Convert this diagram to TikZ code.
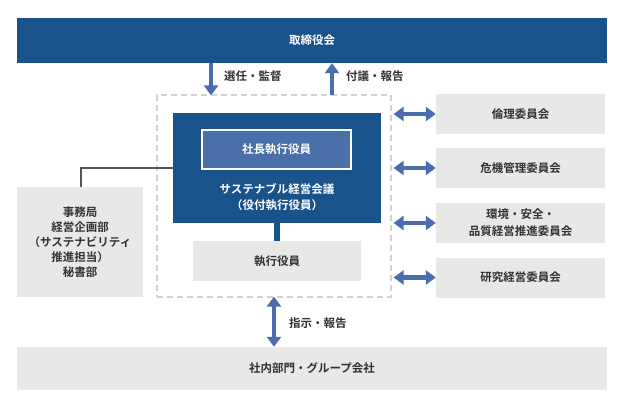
\documentclass[tikz,border=0pt]{standalone}
\usepackage{fontspec}
\setmainfont{Noto Sans CJK JP}[BoldFont={Noto Sans CJK JP Bold}]
\usetikzlibrary{arrows.meta}
\definecolor{navy}{HTML}{1A528C}
\definecolor{midblue}{HTML}{4B6FA8}
\definecolor{arrowblue}{HTML}{4A6EAD}
\definecolor{boxgray}{HTML}{E8E8E7}
\definecolor{dashgray}{HTML}{D2D2D2}
\definecolor{txtgray}{HTML}{333333}
\definecolor{linegray}{HTML}{555555}
\begin{document}
\begin{tikzpicture}[x=1pt,y=-1pt,
  every node/.style={font=\fontsize{11.5}{15}\selectfont\bfseries, inner sep=0pt},
  darkbox/.style={fill=navy, text=white, draw=none},
  graybox/.style={fill=boxgray, text=txtgray, draw=none},
  bigarrow/.style={draw=arrowblue, line width=4.5pt, -{Triangle[width=14pt,length=10pt]}},
  dblarrow/.style={draw=arrowblue, line width=4.5pt, {Triangle[width=14pt,length=10pt]}-{Triangle[width=14pt,length=10pt]}},
  lbl/.style={text=txtgray, anchor=west}
]
\useasboundingbox (0,0) rectangle (624,405);
% top board
\node[darkbox, minimum width=590pt, minimum height=45pt] (board) at (312,40.5) {取締役会};
% dashed executive area
\node[draw=dashgray, dashed, dash pattern=on 6pt off 4pt, line width=1.2pt, minimum width=234pt, minimum height=202pt] (exec) at (274,196) {};
% council
\node[darkbox, minimum width=208pt, minimum height=110pt] (council) at (277,168) {};
\node[fill=midblue, draw=white, line width=1.2pt, text=white, minimum width=149pt, minimum height=39pt] (pres) at (276.5,149.5) {社長執行役員};
\node[text=white, align=center, font=\fontsize{11.5}{16}\selectfont\bfseries] (ctext) at (277,197) {サステナブル経営会議\\（役付執行役員）};
% officers
\node[graybox, minimum width=168pt, minimum height=40pt] (officers) at (277,261) {執行役員};
% secretariat
\node[graybox, minimum width=126pt, minimum height=110pt, align=center] (sec) at (80,242) {事務局\\経営企画部\\（サステナビリティ\\推進担当）\\秘書部};
% committees
\node[graybox, minimum width=169pt, minimum height=40pt] (c1) at (520.5,114) {倫理委員会};
\node[graybox, minimum width=169pt, minimum height=40pt] (c2) at (520.5,168) {危機管理委員会};
\node[graybox, minimum width=169pt, minimum height=40pt, align=center, font=\fontsize{11.5}{17}\selectfont\bfseries] (c3) at (520.5,223) {環境・安全・\\品質経営推進委員会};
\node[graybox, minimum width=169pt, minimum height=40pt] (c4) at (520.5,277.5) {研究経営委員会};
% bottom bar
\node[graybox, minimum width=590pt, minimum height=43pt] (group) at (312,368.5) {社内部門・グループ会社};
% coordinates for arrow columns
\coordinate (dcol) at (211,0);
\coordinate (ucol) at (332,0);
\coordinate (bcol) at (274,0);
\coordinate (scol) at (81,0);
% arrows top
\draw[bigarrow] (board.south -| dcol) -- ([yshift=-1pt]exec.north -| dcol);
\draw[bigarrow] ([yshift=-1pt]exec.north -| ucol) -- (board.south -| ucol);
\node[lbl] (l1) at (224,76) {選任・監督};
\node[lbl] (l2) at (346,76) {付議・報告};
% bottom arrow
\draw[dblarrow] ([yshift=1pt]exec.south -| bcol) -- (group.north -| bcol);
\node[lbl] (l3) at (289,323) {指示・報告};
% committee arrows
\draw[dblarrow] ([xshift=2pt]exec.east |- c1) -- (c1.west);
\draw[dblarrow] ([xshift=2pt]exec.east |- c2) -- (c2.west);
\draw[dblarrow] ([xshift=2pt]exec.east |- c3) -- (c3.west);
\draw[dblarrow] ([xshift=2pt]exec.east |- c4) -- (c4.west);
% council to officers
\draw[navy, line width=5.5pt] (council.south) -- (officers.north);
% secretariat connector
\draw[linegray, line width=1.3pt] (sec.north -| scol) |- (council.west);
\end{tikzpicture}
\end{document}
